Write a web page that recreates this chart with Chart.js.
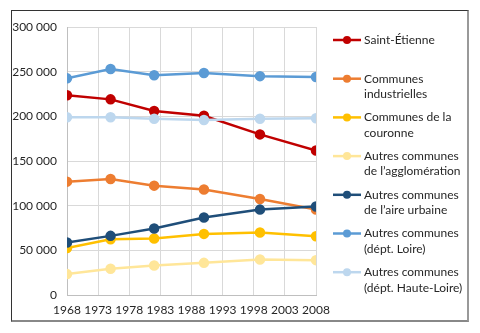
<!DOCTYPE html>
<html>
<head>
<meta charset="utf-8">
<script src="https://cdn.jsdelivr.net/npm/chart.js@4/dist/chart.umd.min.js"></script>
<style>
body{margin:0;background:#fff;}
#wrap{position:relative;width:480px;height:333px;}
#frame{position:absolute;left:11px;top:10px;width:455px;height:309px;border-left:1px solid #333;border-top:1px solid #333;border-right:2px solid #999;border-bottom:2px solid #888;}
canvas{position:absolute;left:0;top:0;}
</style>
</head>
<body>
<div id="wrap">
<div id="frame"></div>
<canvas id="popChart" width="480" height="333"></canvas>
</div>
<script>
// census years and x tick labels
const years = [1968, 1975, 1982, 1990, 1999, 2008];
const tickYears = [1968, 1973, 1978, 1983, 1988, 1993, 1998, 2003, 2008];
const yTicks = [0, 50000, 100000, 150000, 200000, 250000, 300000];

const saintEtienne = [223600, 219000, 206000, 200700, 179800, 161800];
const industrielles = [126900, 129800, 122400, 118000, 107500, 95600];
const couronne = [52500, 62500, 63300, 68400, 70000, 65800];
const agglomeration = [23400, 29400, 33100, 36000, 39800, 39000];
const aireUrbaine = [58800, 66200, 74400, 86700, 95600, 99000];
const loire = [242500, 253000, 246000, 248500, 245000, 244000];
const hauteLoire = [199000, 199000, 197300, 195800, 197300, 197800];

const legendLines = [
["Saint-Étienne"],
["Communes", "industrielles"],
["Communes de la", "couronne"],
["Autres communes", "de l’agglomération"],
["Autres communes", "de l’aire urbaine"],
["Autres communes", "(dépt. Loire)"],
["Autres communes", "(dépt. Haute-Loire)"]
];

const series = [saintEtienne, industrielles, couronne, agglomeration, aireUrbaine, loire, hauteLoire];
const colors = ["#C00000", "#ED7D31", "#FFC000", "#FFE699", "#1F4E79", "#5B9BD5", "#BDD7EE"];

const fontFam = "Lato, 'Open Sans', sans-serif";
const textColor = "#262626";

function spaced(v){
return String(v).replace(/\B(?=(\d{3})+(?!\d))/g, " ");
}

// legend drawn by hand: labels are two lines
const sideLegend = {
id: "sideLegend",
afterDraw(chart){
const ctx = chart.ctx;
ctx.save();
ctx.font = "12px " + fontFam;
ctx.fillStyle = textColor;
ctx.textBaseline = "middle";
chart.data.datasets.forEach((ds, i) => {
const y = 40 + i * 38.7;
ctx.strokeStyle = ds.borderColor;
ctx.lineWidth = 2.5;
ctx.beginPath();
ctx.moveTo(333, y);
ctx.lineTo(361, y);
ctx.stroke();
ctx.fillStyle = ds.borderColor;
ctx.beginPath();
ctx.arc(347, y, 4, 0, Math.PI * 2);
ctx.fill();
ctx.fillStyle = textColor;
legendLines[i].forEach((t, k) => {
ctx.fillText(t, 364, y + k * 15.5);
});
});
ctx.restore();
}
};

new Chart(
document.getElementById("popChart"),
{
type: "line",
data: {
datasets: series.map((s, i) => ({
label: legendLines[i].join(" "),
data: s.map((v, j) => ({x: years[j], y: v})),
borderColor: colors[i],
backgroundColor: colors[i],
borderWidth: 2.5,
pointRadius: 4,
pointHoverRadius: 4,
tension: 0,
order: -i
}))
},
options: {
responsive: false,
animation: false,
layout: {padding: {left: 6, right: 164, top: 27, bottom: 8}},
plugins: {legend: {display: false}, tooltip: {enabled: false}},
scales: {
x: {
type: "linear",
min: 1968,
max: 2008,
afterBuildTicks: s => { s.ticks = tickYears.map(v => ({value: v})); },
afterFit: s => { s.height = 30; },
grid: {color: "#D9D9D9", drawTicks: false},
border: {color: "#BFBFBF"},
ticks: {
padding: 8,
color: textColor,
font: {family: fontFam, size: 12},
maxRotation: 0,
callback: v => String(v)
}
},
y: {
min: 0,
max: 300000,
afterBuildTicks: s => { s.ticks = yTicks.map(v => ({value: v})); },
afterFit: s => { s.width = 61; },
grid: {color: "#D9D9D9", drawTicks: false},
border: {color: "#BFBFBF"},
ticks: {
padding: 10,
color: textColor,
font: {family: fontFam, size: 12},
callback: v => spaced(v)
}
}
}
},
plugins: [sideLegend]
}
);
</script>
</body>
</html>
